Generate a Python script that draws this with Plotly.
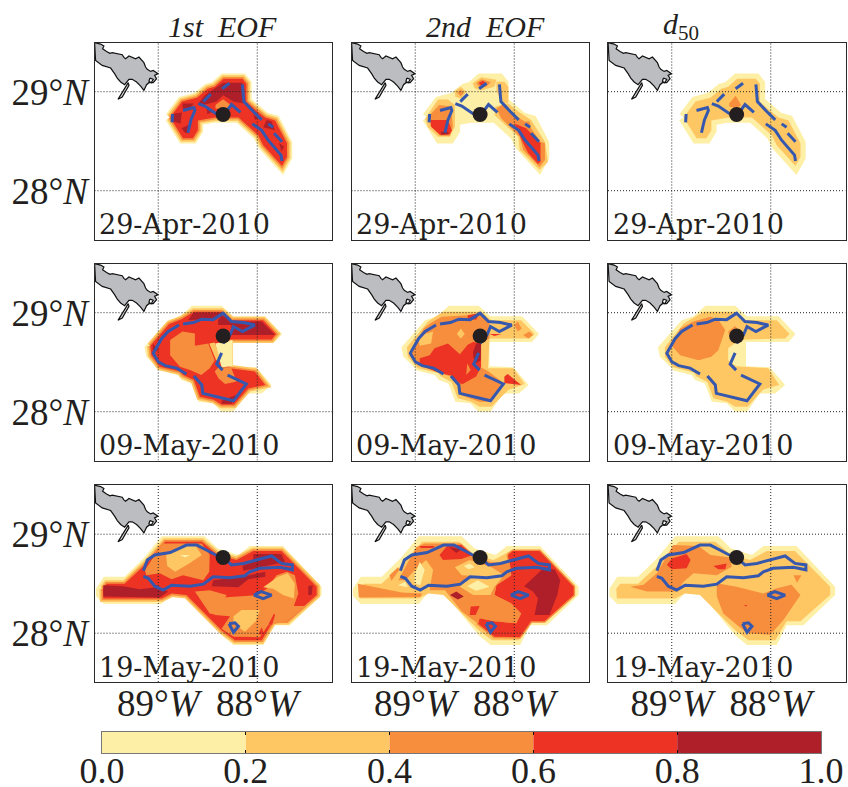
import plotly.graph_objects as go

# ---------- colour levels ----------
LEVEL_COLORS = ["#feefa6", "#fec763", "#f68e3e", "#ed3324", "#ae1f2a"]
CBAR_EDGES = [0.0, 0.2, 0.4, 0.6, 0.8, 1.0]
CBAR_LABELS = ["0.0", "0.2", "0.4", "0.6", "0.8", "1.0"]
TITLES = ["<i>1st  EOF</i>", "<i>2nd  EOF</i>", "<i>d</i><sub>50</sub>"]
DATES = ["29-Apr-2010", "09-May-2010", "19-May-2010"]
LON_TICKS = [-89, -88]
LON_LABELS = ["89°<i>W</i>", "88°<i>W</i>"]
LAT_TICKS = [29, 28]
LAT_LABELS = ["29°<i>N</i>", "28°<i>N</i>"]
SPILL_LON = [-88.345, -88.345, -88.345]
SPILL_LAT = [28.77, 28.765, 28.765]

LAND = [(-89.643,29.495),(-89.582,29.481),(-89.549,29.461),(-89.562,29.434),(-89.522,29.407),(-89.488,29.387),(-89.465,29.394),(-89.407,29.380),(-89.364,29.374),(-89.347,29.347),(-89.33,29.333),(-89.296,29.36),(-89.263,29.347),(-89.229,29.333),(-89.195,29.35),(-89.162,29.316),(-89.145,29.293),(-89.128,29.249),(-89.111,29.226),(-89.077,29.205),(-89.051,29.215),(-89.003,29.182),(-89.037,29.165),(-89.017,29.131),(-89.051,29.091),(-89.094,29.091),(-89.118,29.071),(-89.145,29.013),(-89.178,29.057),(-89.219,29.098),(-89.263,29.125),(-89.296,29.125),(-89.340,29.071),(-89.38,29.098),(-89.414,29.138),(-89.441,29.182),(-89.481,29.239),(-89.566,29.266),(-89.633,29.316)]
ISLAND = [(-89.303,29.091),(-89.364,28.997),(-89.407,28.923),(-89.364,28.946),(-89.296,29.064)]
LAKE = [(-89.084,29.138),(-89.051,29.125),(-89.071,29.091),(-89.094,29.105)]

# ---------- row 1 ----------
R1_CORE = [(-88.88,28.74),(-88.76,28.90),(-88.61,28.94),(-88.50,29.03),(-88.43,29.05),(-88.34,29.13),(-88.15,29.13),(-88.11,29.08),(-88.11,28.90),(-88.01,28.81),(-87.92,28.74),(-87.82,28.71),(-87.70,28.48),(-87.70,28.34),(-87.75,28.25),(-87.94,28.46),(-87.99,28.56),(-88.19,28.74),(-88.43,28.74),(-88.60,28.71),(-88.60,28.61),(-88.65,28.53),(-88.75,28.53)]
P11_D1 = [(-88.865,28.775),(-88.76,28.79),(-88.775,28.68),(-88.855,28.70)]
P11_D2 = [(-88.755,28.88),(-88.64,28.88),(-88.68,28.83),(-88.75,28.81)]
P11_D3 = [(-88.765,28.63),(-88.69,28.665),(-88.69,28.58),(-88.73,28.585)]
P11_D4 = [(-88.53,28.965),(-88.41,29.05),(-88.345,29.09),(-88.15,29.09),(-88.135,28.88),(-88.24,28.90),(-88.345,28.965),(-88.41,28.90),(-88.545,28.865),(-88.595,28.88)]
P11_D5 = [(-88.51,28.83),(-88.44,28.80),(-88.505,28.775)]
P11_D6 = [(-87.905,28.715),(-87.855,28.70),(-87.82,28.61),(-87.94,28.64)]
P11_D7 = [(-88.04,28.765),(-87.99,28.74),(-88.02,28.715)]
P11_D8 = [(-87.78,28.485),(-87.73,28.445),(-87.755,28.395)]
P11_O1 = [(-88.345,28.92),(-88.27,28.865),(-88.285,28.83),(-88.42,28.83),(-88.42,28.865)]

P12_L1A = [(-88.90,28.73),(-88.77,28.92),(-88.67,28.92),(-88.60,28.865),(-88.60,28.65),(-88.65,28.545),(-88.77,28.545),(-88.87,28.64)]
P12_L2A = [(-88.86,28.755),(-88.76,28.865),(-88.64,28.85),(-88.62,28.645),(-88.65,28.555),(-88.75,28.555),(-88.845,28.655)]
P12_L3A = [(-88.845,28.715),(-88.67,28.715),(-88.63,28.61),(-88.65,28.57),(-88.75,28.565),(-88.84,28.645)]
P12_L4A = [(-88.74,28.595),(-88.665,28.595),(-88.665,28.57),(-88.74,28.565)]
P12_L1B = [(-88.19,28.85),(-88.06,28.88),(-87.96,28.80),(-87.83,28.715),(-87.69,28.495),(-87.66,28.29),(-87.745,28.21),(-87.945,28.41),(-87.96,28.545),(-88.20,28.765)]
P12_L1C = [(-88.18,29.10),(-88.10,29.10),(-88.06,29.05),(-88.06,28.88),(-88.125,28.88),(-88.18,29.015)]
P12_L2B = [(-88.18,28.83),(-88.10,28.88),(-88.00,28.765),(-87.895,28.70),(-87.845,28.70),(-87.83,28.63),(-87.735,28.495),(-87.69,28.48),(-87.69,28.31),(-87.745,28.24),(-87.91,28.41),(-87.945,28.545),(-88.03,28.63),(-88.13,28.73)]
P12_L3B = [(-88.00,28.68),(-87.88,28.63),(-87.735,28.48),(-87.735,28.29),(-87.76,28.27),(-87.86,28.38),(-87.91,28.48)]
P12_L1D = [(-88.42,29.085),(-88.335,29.145),(-88.18,29.12),(-88.20,29.05),(-88.335,29.015),(-88.40,29.035)]
P12_L2D = [(-88.385,29.085),(-88.33,29.125),(-88.235,29.095),(-88.285,29.05),(-88.35,29.045)]
P12_L3D = [(-88.36,29.09),(-88.315,29.11),(-88.285,29.085),(-88.33,29.055)]
P12_L1E = [(-88.60,29.01),(-88.54,29.05),(-88.485,29.00),(-88.535,28.93),(-88.595,28.95)]
P12_L2E = [(-88.575,28.99),(-88.54,29.02),(-88.51,28.99),(-88.54,28.955)]

P13_L2 = [(-88.355,28.96),(-88.30,28.865),(-88.345,28.83),(-88.42,28.85),(-88.42,28.88)]

# ---------- row 2 ----------
R2_OUTER = [(-89.14,28.65),(-88.90,28.925),(-88.78,28.965),(-88.66,29.07),(-88.36,29.07),(-88.24,28.965),(-87.92,28.965),(-87.75,28.785),(-87.82,28.705),(-88.25,28.705),(-88.25,28.46),(-88.01,28.45),(-87.855,28.27),(-87.955,28.185),(-88.11,28.185),(-88.24,28.00),(-88.36,28.00),(-88.445,28.085),(-88.595,28.10),(-88.665,28.285),(-88.765,28.32),(-88.80,28.37),(-88.985,28.415),(-89.015,28.455),(-89.12,28.555)]
P21_RED = [(-89.08,28.665),(-88.89,28.885),(-88.765,28.935),(-88.64,29.01),(-88.36,29.01),(-88.26,28.925),(-87.94,28.925),(-87.81,28.785),(-87.855,28.73),(-88.28,28.73),(-88.28,28.44),(-88.025,28.405),(-87.92,28.27),(-88.09,28.235),(-88.235,28.07),(-88.36,28.07),(-88.44,28.12),(-88.58,28.15),(-88.64,28.32),(-88.75,28.37),(-88.78,28.405),(-88.985,28.455),(-89.07,28.57)]
P21_WEDGE = [(-88.425,28.69),(-88.25,28.725),(-88.25,28.46),(-88.36,28.45),(-88.39,28.555)]
P21_O1 = [(-88.88,28.725),(-88.755,28.81),(-88.63,28.79),(-88.63,28.665),(-88.495,28.69),(-88.43,28.52),(-88.48,28.44),(-88.565,28.37),(-88.68,28.42),(-88.78,28.455),(-88.88,28.57)]
P21_LO = [(-88.485,28.69),(-88.43,28.70),(-88.37,28.52),(-88.415,28.52)]
P21_O2 = [(-88.43,28.405),(-88.39,28.45),(-88.265,28.45),(-88.21,28.305),(-88.325,28.28),(-88.39,28.335)]
P21_D1 = [(-88.645,29.00),(-88.36,29.00),(-88.445,28.94),(-88.70,28.925)]
P21_D2 = [(-88.36,28.975),(-88.24,28.91),(-87.955,28.91),(-87.82,28.775),(-88.275,28.775),(-88.26,28.875),(-88.395,28.875),(-88.395,28.925)]
P21_D3 = [(-88.36,28.11),(-88.21,28.17),(-88.26,28.08),(-88.36,28.08)]
P21_D4 = [(-89.055,28.69),(-89.00,28.62),(-89.055,28.595)]

P22_L1 = [(-89.085,28.65),(-88.87,28.91),(-88.72,29.01),(-88.33,29.01),(-88.23,28.925),(-87.93,28.925),(-87.795,28.785),(-87.845,28.74),(-88.25,28.74),(-88.265,28.44),(-88.01,28.44),(-87.895,28.28),(-88.06,28.22),(-88.23,28.05),(-88.35,28.05),(-88.435,28.10),(-88.57,28.135),(-88.635,28.30),(-88.74,28.355),(-88.77,28.39),(-88.975,28.44),(-89.075,28.555)]
P22_L2 = [(-89.06,28.57),(-88.915,28.84),(-88.85,28.89),(-88.735,28.96),(-88.47,28.975),(-88.35,28.995),(-88.25,28.89),(-88.25,28.74),(-88.345,28.69),(-88.345,28.455),(-88.26,28.405),(-88.10,28.285),(-88.23,28.10),(-88.35,28.10),(-88.55,28.17),(-88.57,28.27),(-88.645,28.355),(-88.75,28.39),(-88.975,28.47)]
P22_P1 = [(-88.975,28.765),(-88.82,28.81),(-88.84,28.69),(-88.955,28.665)]
P22_P2 = [(-88.54,28.84),(-88.50,28.785),(-88.54,28.74),(-88.58,28.785)]
P22_L3 = [(-88.955,28.54),(-88.855,28.57),(-88.805,28.64),(-88.67,28.69),(-88.55,28.58),(-88.47,28.675),(-88.415,28.705),(-88.335,28.69),(-88.335,28.455),(-88.385,28.355),(-88.52,28.28),(-88.55,28.285),(-88.635,28.365),(-88.74,28.385),(-88.955,28.47)]
P22_O = [(-88.475,28.49),(-88.44,28.42),(-88.485,28.37)]
P22_L4 = [(-88.415,28.605),(-88.385,28.69),(-88.335,28.69),(-88.34,28.52),(-88.385,28.49),(-88.415,28.555)]
P22_R1 = [(-88.10,28.355),(-88.065,28.38),(-87.93,28.27),(-88.10,28.29)]
P22_O1 = [(-88.00,28.875),(-87.965,28.91),(-87.925,28.84),(-87.965,28.81)]
P22_O2 = [(-87.91,28.775),(-87.845,28.81),(-87.81,28.775),(-87.86,28.74)]
P22_R2 = [(-88.47,28.975),(-88.35,28.995),(-88.385,28.93),(-88.47,28.94)]
P22_R3 = [(-88.25,28.785),(-88.13,28.785),(-88.20,28.765)]

P23_L1 = [(-89.07,28.65),(-88.88,28.89),(-88.72,28.985),(-88.675,29.01),(-88.36,29.01),(-88.26,28.925),(-87.94,28.925),(-87.81,28.785),(-87.855,28.74),(-88.26,28.73),(-88.345,28.705),(-88.43,28.64),(-88.43,28.52),(-88.35,28.46),(-88.025,28.44),(-87.915,28.27),(-88.075,28.225),(-88.235,28.05),(-88.36,28.05),(-88.44,28.10),(-88.58,28.135),(-88.64,28.30),(-88.75,28.355),(-88.78,28.395),(-88.985,28.45),(-89.07,28.555)]
P23_L2A = [(-89.00,28.665),(-88.915,28.84),(-88.78,28.91),(-88.61,28.96),(-88.53,28.93),(-88.46,28.825),(-88.53,28.62),(-88.60,28.555),(-88.73,28.52),(-88.915,28.57)]
P23_L2B = [(-88.43,28.81),(-88.36,28.865),(-88.28,28.775),(-88.41,28.74)]

# ---------- row 3 ----------
R3_OUTER = [(-89.63,28.45),(-89.55,28.57),(-89.34,28.57),(-89.15,28.755),(-88.965,28.98),(-88.53,28.98),(-88.40,28.855),(-88.19,28.79),(-88.075,28.88),(-87.74,28.88),(-87.35,28.47),(-87.35,28.385),(-87.67,28.08),(-87.84,28.08),(-87.94,27.88),(-88.24,27.88),(-88.36,27.98),(-88.73,28.435),(-88.85,28.435),(-88.965,28.295),(-89.55,28.295),(-89.63,28.375)]
R3_CORE = [(-89.56,28.45),(-89.52,28.50),(-89.34,28.50),(-89.12,28.705),(-88.93,28.925),(-88.56,28.925),(-88.40,28.79),(-88.21,28.74),(-88.04,28.83),(-87.755,28.83),(-87.40,28.47),(-87.40,28.385),(-87.70,28.12),(-87.84,28.12),(-87.955,27.93),(-88.225,27.93),(-88.36,28.03),(-88.715,28.385),(-88.865,28.40),(-88.965,28.35),(-89.555,28.35)]
P31_D1 = [(-89.555,28.485),(-89.355,28.475),(-89.185,28.445),(-89.015,28.465),(-88.90,28.42),(-88.985,28.36),(-89.555,28.37)]
P31_D2 = [(-88.46,28.475),(-88.445,28.535),(-88.175,28.565),(-87.92,28.62),(-87.92,28.57),(-88.09,28.545),(-88.19,28.465)]
P31_D3 = [(-88.04,28.80),(-87.755,28.80),(-87.72,28.72),(-87.94,28.67),(-88.14,28.63),(-88.15,28.68),(-88.04,28.72)]
P31_D4 = [(-87.485,28.475),(-87.44,28.485),(-87.45,28.385),(-87.485,28.385)]
P31_O1 = [(-89.135,28.635),(-89.015,28.82),(-88.95,28.905),(-88.56,28.905),(-88.48,28.79),(-88.485,28.62),(-88.545,28.535),(-88.62,28.555),(-88.75,28.585),(-88.865,28.545),(-88.985,28.605),(-89.12,28.585)]
P31_L1 = [(-88.92,28.79),(-88.78,28.88),(-88.63,28.89),(-88.56,28.79),(-88.68,28.71),(-88.83,28.62),(-88.91,28.68)]
P31_Y1 = [(-88.78,28.79),(-88.68,28.79),(-88.73,28.765)]
P31_O2 = [(-88.415,28.27),(-88.345,28.36),(-88.005,28.385),(-87.905,28.45),(-87.805,28.585),(-87.70,28.62),(-87.62,28.585),(-87.585,28.40),(-87.63,28.275),(-87.52,28.275),(-87.70,28.12),(-87.89,28.08),(-87.975,27.96),(-88.24,27.965),(-88.36,28.045),(-88.275,28.17),(-88.43,28.185)]
P31_O3 = [(-88.63,28.42),(-88.48,28.435),(-88.31,28.385),(-88.41,28.185),(-88.48,28.20)]
P31_L2 = [(-87.94,28.465),(-87.79,28.57),(-87.69,28.605),(-87.62,28.50),(-87.63,28.35),(-87.74,28.385),(-87.84,28.45)]
P31_L3 = [(-88.24,28.17),(-88.16,28.235),(-87.975,28.235),(-88.015,28.12),(-88.125,28.015),(-88.24,28.10)]
P31_R1 = [(-87.89,28.085),(-87.83,28.20),(-87.82,28.185),(-87.85,28.085)]
P31_R2 = [(-87.99,27.99),(-87.955,28.06),(-87.93,27.985)]

P32_O1 = [(-89.58,28.50),(-89.32,28.45),(-89.135,28.41),(-88.93,28.40),(-88.95,28.365),(-89.57,28.36)]
P32_O2 = [(-89.26,28.585),(-89.175,28.665),(-89.16,28.64),(-89.24,28.53)]
P32_R = [(-88.065,28.79),(-88.015,28.83),(-87.745,28.83),(-87.40,28.47),(-87.40,28.385),(-87.695,28.12),(-87.83,28.12),(-87.945,27.96),(-88.20,27.965),(-88.365,28.095),(-88.35,28.15),(-88.20,28.12),(-87.98,28.10),(-87.93,28.20),(-88.03,28.30),(-88.20,28.385),(-88.18,28.485),(-88.03,28.585),(-88.045,28.705)]
P32_D1 = [(-87.90,28.475),(-87.695,28.665),(-87.59,28.64),(-87.535,28.535),(-87.565,28.385),(-87.645,28.185),(-87.795,28.185),(-87.76,28.35),(-87.81,28.42)]
P32_D2 = [(-88.65,28.385),(-88.585,28.42),(-88.51,28.37),(-88.57,28.34)]
P32_O3 = [(-89.12,28.63),(-88.99,28.87),(-88.905,28.905),(-88.535,28.905),(-88.41,28.79),(-88.24,28.72),(-88.045,28.705),(-88.03,28.585),(-88.18,28.485),(-88.20,28.385),(-88.03,28.30),(-87.93,28.20),(-87.98,28.10),(-88.20,28.12),(-88.35,28.15),(-88.365,28.095),(-88.53,28.22),(-88.70,28.435),(-88.85,28.435),(-88.87,28.535),(-89.17,28.535)]
P32_L1 = [(-89.11,28.52),(-89.005,28.64),(-88.89,28.74),(-88.82,28.64),(-88.855,28.445),(-89.055,28.455)]
P32_Y1 = [(-89.005,28.595),(-88.955,28.72),(-88.905,28.64),(-88.95,28.485),(-89.005,28.505)]
P32_Y2 = [(-89.175,28.485),(-89.10,28.52),(-89.075,28.465)]
P32_L2 = [(-88.60,28.665),(-88.45,28.74),(-88.23,28.665),(-88.10,28.585),(-88.20,28.47),(-88.24,28.385),(-88.415,28.385),(-88.55,28.47),(-88.44,28.58),(-88.53,28.585)]
P32_Y3 = [(-88.51,28.68),(-88.45,28.705),(-88.40,28.665),(-88.46,28.645)]
P32_Y4 = [(-88.475,28.475),(-88.37,28.535),(-88.25,28.47),(-88.385,28.43)]
P32_R1 = [(-88.755,28.79),(-88.67,28.89),(-88.535,28.89),(-88.42,28.79),(-88.535,28.75),(-88.72,28.74)]
P32_R2 = [(-88.955,28.88),(-88.805,28.88),(-88.82,28.86),(-88.945,28.86)]
P32_D3 = [(-88.66,28.87),(-88.535,28.845),(-88.585,28.81)]
P32_R3 = [(-88.45,28.185),(-88.44,28.27),(-88.35,28.275),(-88.39,28.185)]

P33_O1 = [(-89.42,28.47),(-89.285,28.49),(-89.15,28.605),(-88.985,28.89),(-88.73,28.88),(-88.61,28.79),(-88.41,28.765),(-88.395,28.67),(-88.545,28.585),(-88.78,28.605),(-88.88,28.52),(-88.95,28.42),(-89.25,28.42)]
P33_R1 = [(-89.05,28.69),(-89.00,28.755),(-88.85,28.80),(-88.81,28.74),(-88.85,28.655),(-89.00,28.645)]
P33_R2 = [(-88.58,28.68),(-88.445,28.705),(-88.46,28.645),(-88.53,28.645)]
P33_O2 = [(-88.545,28.505),(-88.345,28.47),(-88.075,28.40),(-87.94,28.455),(-87.79,28.49),(-87.70,28.385),(-87.87,28.135),(-88.005,27.985),(-88.24,28.00),(-88.325,28.07),(-88.48,28.20),(-88.545,28.37)]
P33_O3 = [(-87.77,28.585),(-87.69,28.585),(-87.735,28.51)]
P33_R3 = [(-88.27,28.285),(-88.235,28.285),(-88.25,28.27)]

# ---------- blue oil contours (one set per date) ----------
BLUE_1 = [
    [(-88.855,28.775),(-88.86,28.69)],
    [(-88.75,28.81),(-88.64,28.84),(-88.63,28.81),(-88.67,28.715),(-88.70,28.585)],
    [(-88.595,28.88),(-88.53,28.855),(-88.42,28.78),(-88.345,28.755),(-88.26,28.87),(-88.19,28.815),(-88.17,28.79)],
    [(-88.545,28.90),(-88.47,28.975)],
    [(-88.355,29.03),(-88.28,29.085)],
    [(-88.15,29.075),(-88.135,28.90),(-88.04,28.80),(-87.955,28.715)],
    [(-87.89,28.675),(-87.84,28.64)],
    [(-87.83,28.58),(-87.75,28.495)],
    [(-88.05,28.675),(-87.955,28.61),(-87.89,28.51),(-87.82,28.43),(-87.76,28.36),(-87.75,28.30)],
]
BLUE_2 = [
    [(-88.79,28.875),(-88.90,28.81),(-88.965,28.74),(-89.05,28.59),(-89.00,28.505),(-88.93,28.465),(-88.815,28.44),(-88.715,28.38)],
    [(-88.64,28.36),(-88.56,28.27),(-88.55,28.185),(-88.345,28.135),(-88.24,28.11),(-88.11,28.28),(-88.19,28.32),(-88.30,28.37)],
    [(-88.35,28.42),(-88.41,28.48),(-88.36,28.595)],
    [(-88.75,28.885),(-88.645,28.90),(-88.56,28.935),(-88.445,28.93),(-88.345,28.995),(-88.26,28.91),(-88.14,28.90),(-88.025,28.875),(-88.15,28.81),(-88.24,28.86),(-88.28,28.765)],
    [(-88.345,28.69),(-88.33,28.71)],
]
BLUE_3 = [
    [(-89.15,28.63),(-89.11,28.74),(-89.035,28.79),(-88.88,28.815),(-88.715,28.89),(-88.61,28.89),(-88.495,28.83),(-88.42,28.79),(-88.345,28.765),(-88.26,28.69),(-88.14,28.705),(-88.005,28.74),(-87.855,28.78),(-87.755,28.705),(-87.645,28.69),(-87.645,28.64),(-87.77,28.665),(-87.975,28.655),(-88.075,28.62),(-88.125,28.58),(-88.275,28.56),(-88.445,28.57),(-88.545,28.495),(-88.68,28.475),(-88.865,28.485),(-88.95,28.435),(-89.035,28.475),(-89.10,28.555),(-89.15,28.575)],
    [(-88.035,28.385),(-87.96,28.42),(-87.855,28.385),(-87.94,28.35),(-88.035,28.385)],
    [(-88.285,28.095),(-88.225,28.105),(-88.19,28.07),(-88.24,28.01),(-88.285,28.095)],
]
BLUE = [BLUE_1, BLUE_2, BLUE_3]

# ---------- layers for each panel: polygon, colour level, halo stroke ----------
P = {
 (0,0): [(R1_CORE,0,10.5),(R1_CORE,1,7),(R1_CORE,2,3.5),(R1_CORE,3,0),(P11_O1,2,0),(P11_D1,4,0),(P11_D2,4,0),(P11_D3,4,0),(P11_D4,4,0),(P11_D5,4,0),(P11_D6,4,0),(P11_D7,4,0),(P11_D8,4,0),(P11_O1,2,0)],
 (0,1): [(R1_CORE,0,10.5),(P12_L1A,1,0),(P12_L2A,2,0),(P12_L3A,3,0),(P12_L4A,4,0),(P12_L1C,1,0),(P12_L1B,1,0),(P12_L2B,2,0),(P12_L3B,3,0),(P12_L1D,1,0),(P12_L2D,2,0),(P12_L3D,3,0),(P12_L1E,1,0),(P12_L2E,2,0)],
 (0,2): [(R1_CORE,0,10.5),(R1_CORE,1,0),(P13_L2,2,0)],
 (1,0): [(R2_OUTER,0,0),(P21_RED,1,7),(P21_RED,2,3.5),(P21_RED,3,0),(P21_WEDGE,0,0),(P21_O1,2,0),(P21_LO,1,0),(P21_O2,2,0),(P21_D1,4,0),(P21_D2,4,0),(P21_D3,4,0),(P21_D4,4,0)],
 (1,1): [(R2_OUTER,0,0),(P22_L1,1,0),(P22_L2,2,0),(P22_P1,1,0),(P22_P2,1,0),(P22_L3,3,0),(P22_O,2,0),(P22_L4,4,0),(P22_R1,3,0),(P22_O1,2,0),(P22_O2,2,0),(P22_R2,3,0),(P22_R3,3,0)],
 (1,2): [(R2_OUTER,0,0),(P23_L1,1,0),(P23_L2A,2,0),(P23_L2B,2,0)],
 (2,0): [(R3_OUTER,0,0),(R3_CORE,1,7),(R3_CORE,2,3.5),(R3_CORE,3,0),(P31_O1,2,0),(P31_L1,1,0),(P31_Y1,0,0),(P31_O2,2,0),(P31_O3,2,0),(P31_L2,1,0),(P31_L3,1,0),(P31_R1,3,0),(P31_R2,3,0),(P31_D1,4,0),(P31_D2,4,0),(P31_D3,4,0),(P31_D4,4,0)],
 (2,1): [(R3_OUTER,0,0),(R3_CORE,1,0),(P32_O1,2,0),(P32_O2,2,0),(P32_R,2,3),(P32_R,3,0),(P32_O3,2,0),(P32_L1,1,0),(P32_Y1,0,0),(P32_Y2,0,0),(P32_L2,1,0),(P32_Y3,0,0),(P32_Y4,0,0),(P32_R1,3,0),(P32_R2,3,0),(P32_R3,3,0),(P32_D1,4,0),(P32_D2,4,0),(P32_D3,4,0)],
 (2,2): [(R3_OUTER,0,0),(R3_CORE,1,0),(P33_O1,2,0),(P33_O2,2,0),(P33_O3,2,0),(P33_R1,3,0),(P33_R2,3,0),(P33_R3,3,0)],
}

# ---------- figure geometry (page margin removed below) ----------
W, H = 848, 787
COL_LEFT = [94.5, 351.5, 608.0]
ROW_TOP = [42.5, 263.5, 485.0]
PW, PH = 237.5, 197.0
XR = [-89.644, -87.245]
YR = [27.507, 29.497]
SERIF = "Liberation Serif"
INK = "#231f20"
BLUE_COLOR = "#3558ae"

fig = go.Figure()

def xy(poly, close=False):
    pts = list(poly) + ([poly[0]] if close else [])
    return [p[0] for p in pts], [p[1] for p in pts]

for r in range(3):
    for c in range(3):
        k = r * 3 + c + 1
        xa, ya = f"x{k}", f"y{k}"
        axx, axy = f"xaxis{k}", f"yaxis{k}"
        fig.layout[axx] = dict(
            domain=[COL_LEFT[c] / W, (COL_LEFT[c] + PW) / W], range=XR, anchor=ya, automargin=False,
            tickmode="array", tickvals=LON_TICKS, ticktext=LON_LABELS, showticklabels=(r == 2),
            ticklabelstandoff=-12,
            tickfont=dict(family=SERIF, size=37, color=INK), ticks="", showgrid=False, zeroline=False,
            showline=True, mirror=True, linecolor="#2a2a2a", linewidth=1.3)
        fig.layout[axy] = dict(
            domain=[1 - (ROW_TOP[r] + PH) / H, 1 - ROW_TOP[r] / H], range=YR, anchor=xa, automargin=False,
            tickmode="array", tickvals=LAT_TICKS, ticktext=LAT_LABELS, showticklabels=(c == 0),
            ticklabelstandoff=-2,
            tickfont=dict(family=SERIF, size=37, color=INK), ticks="", showgrid=False, zeroline=False,
            showline=True, mirror=True, linecolor="#2a2a2a", linewidth=1.3)

        # filled contour levels
        for poly, lvl, stroke in P[(r, c)]:
            xs, ys = xy(poly, True)
            fig.add_trace(go.Scatter(x=xs, y=ys, xaxis=xa, yaxis=ya, mode="lines", fill="toself",
                                     fillcolor=LEVEL_COLORS[lvl],
                                     line=dict(color=LEVEL_COLORS[lvl], width=stroke),
                                     hoverinfo="skip", showlegend=False))
        # land
        for poly, col in ((LAND, "#bbbdc0"), (ISLAND, "#d8d9da"), (LAKE, "#ffffff")):
            xs, ys = xy(poly, True)
            fig.add_trace(go.Scatter(x=xs, y=ys, xaxis=xa, yaxis=ya, mode="lines", fill="toself",
                                     fillcolor=col, line=dict(color="#111111", width=1.2),
                                     hoverinfo="skip", showlegend=False))
        # graticule
        for lon in LON_TICKS:
            fig.add_trace(go.Scatter(x=[lon, lon], y=YR, xaxis=xa, yaxis=ya, mode="lines",
                                     line=dict(color="#222222", width=1, dash="1px,2px"),
                                     hoverinfo="skip", showlegend=False))
        for lat in LAT_TICKS:
            fig.add_trace(go.Scatter(x=XR, y=[lat, lat], xaxis=xa, yaxis=ya, mode="lines",
                                     line=dict(color="#222222", width=1, dash="1px,2px"),
                                     hoverinfo="skip", showlegend=False))
        # oil contours
        for seg in BLUE[r]:
            xs, ys = xy(seg)
            fig.add_trace(go.Scatter(x=xs, y=ys, xaxis=xa, yaxis=ya, mode="lines",
                                     line=dict(color=BLUE_COLOR, width=3),
                                     hoverinfo="skip", showlegend=False))
        # spill site
        fig.add_trace(go.Scatter(x=[SPILL_LON[r]], y=[SPILL_LAT[r]], xaxis=xa, yaxis=ya, mode="markers",
                                 marker=dict(color=INK, size=15), hoverinfo="skip", showlegend=False))
        # date
        fig.add_annotation(x=XR[0] + 0.03, y=27.655, xref=xa, yref=ya, text=DATES[r], showarrow=False,
                           xanchor="left", yanchor="middle",
                           font=dict(family="DejaVu Serif", size=27, color=INK))

# column titles
for cx, t in zip([222, 485, 681], TITLES):
    fig.add_annotation(x=cx / W, y=1 - 26 / H, xref="paper", yref="paper", text=t, showarrow=False,
                       xanchor="center", yanchor="middle",
                       font=dict(family=SERIF, size=30, color=INK))

# colour bar
fig.add_trace(go.Bar(x=[CBAR_EDGES[i + 1] - CBAR_EDGES[i] for i in range(5)], base=CBAR_EDGES[:5], y=[0] * 5,
                     orientation="h", width=1, marker=dict(color=LEVEL_COLORS, line=dict(width=0)),
                     xaxis="x10", yaxis="y10", hoverinfo="skip", showlegend=False))
fig.layout["xaxis10"] = dict(domain=[102 / W, 821 / W], range=[0, 1], anchor="y10", automargin=False,
                             tickmode="array", tickvals=CBAR_EDGES, ticktext=CBAR_LABELS, ticklabelstandoff=-14,
                             tickfont=dict(family=SERIF, size=36, color=INK),
                             ticks="inside", ticklen=3, tickcolor="#111111", mirror="ticks", showgrid=False, zeroline=False,
                             showline=True, linecolor="#777777", linewidth=1)
fig.layout["yaxis10"] = dict(domain=[1 - 753 / H, 1 - 732 / H], range=[-0.5, 0.5], anchor="x10", automargin=False,
                             showticklabels=False, ticks="", showgrid=False, zeroline=False,
                             showline=True, mirror=True, linecolor="#777777", linewidth=1)

fig.update_layout(width=W, height=H, margin=dict(l=0, r=0, t=0, b=0), paper_bgcolor="white",
                  plot_bgcolor="white", barmode="overlay")
fig.write_html("out.html", default_width=f"{W}px", default_height=f"{H}px",
               config={"displayModeBar": False},
               post_script="document.body.style.margin='0';document.documentElement.style.overflow='hidden';")
